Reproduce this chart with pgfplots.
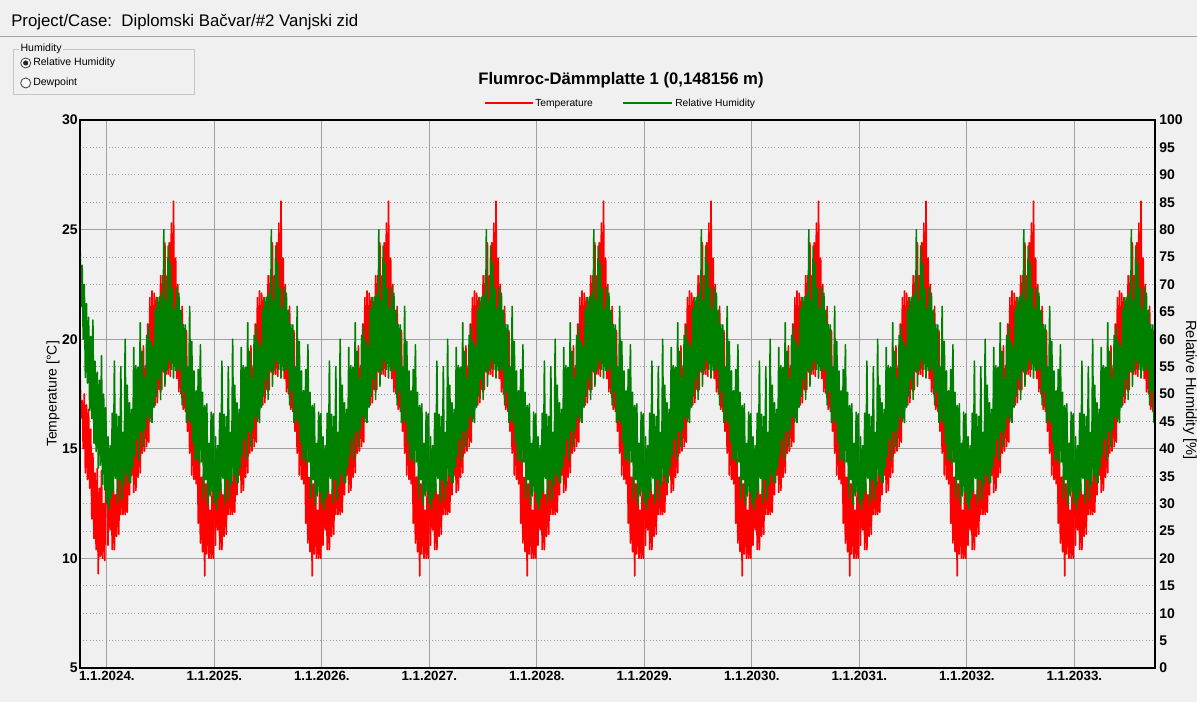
\documentclass[border=0pt]{standalone}
\usepackage{fontspec}
\setmainfont{Liberation Sans}
\usepackage{pgfplots}
\usepackage{pgfplotstable}
\pgfplotsset{compat=1.18}
\definecolor{bg}{HTML}{F0F0F0}
\definecolor{gridc}{HTML}{A0A0A0}
\definecolor{wgreen}{HTML}{008000}
\definecolor{wred}{HTML}{FF0000}

% one climate year (t = fraction of the year from 1 January), repeated every year
\pgfplotstableread{
t T RH
0.00 13.9 30.0
0.01 10.6 42.2
0.02 14.1 29.0
0.03 11.3 40.6
0.04 13.8 31.0
0.05 10.4 46.5
0.06 13.4 32.2
0.07 10.4 56.0
0.08 12.9 34.6
0.09 11.0 46.3
0.10 14.1 30.0
0.11 11.1 45.9
0.12 13.8 34.4
0.13 12.0 55.0
0.14 15.1 30.8
0.15 12.0 43.0
0.16 13.5 33.4
0.17 12.0 60.0
0.18 15.0 35.2
0.19 12.1 51.6
0.20 15.7 34.0
0.21 12.9 48.4
0.22 16.1 33.8
0.23 13.8 47.2
0.24 16.0 36.6
0.25 13.0 58.5
0.26 15.9 38.6
0.27 13.1 55.2
0.28 15.7 41.8
0.29 13.7 54.9
0.30 17.1 38.0
0.31 13.9 63.0
0.32 17.2 43.2
0.33 14.8 57.8
0.34 19.7 40.4
0.35 14.9 53.0
0.36 18.8 43.6
0.37 15.1 60.7
0.38 20.7 45.8
0.39 15.3 62.4
0.40 21.9 45.0
0.41 16.4 59.6
0.42 22.2 44.8
0.43 17.5 58.8
0.44 22.1 47.6
0.45 17.0 65.5
0.46 21.9 49.6
0.47 17.1 67.6
0.48 21.6 52.8
0.49 17.7 67.7
0.50 22.9 49.0
0.51 17.7 68.3
0.52 22.9 54.2
0.53 18.5 80.0
0.54 24.4 51.4
0.55 18.4 67.0
0.56 22.9 54.3
0.57 18.4 77.0
0.58 24.4 55.9
0.59 18.3 74.0
0.60 25.3 54.5
0.61 18.9 69.2
0.62 26.3 52.9
0.63 19.4 65.6
0.64 23.7 54.3
0.65 18.2 69.5
0.66 22.5 54.2
0.67 17.6 68.4
0.68 21.2 54.6
0.69 17.5 65.3
0.70 21.5 48.0
0.71 16.8 62.7
0.72 20.2 50.4
0.73 16.7 62.6
0.74 20.4 44.8
0.75 15.8 55.0
0.76 17.8 45.2
0.77 14.8 66.0
0.78 18.2 44.6
0.79 13.8 59.6
0.80 17.9 41.0
0.81 13.6 54.2
0.82 17.3 38.0
0.83 13.4 50.6
0.84 16.2 38.0
0.85 11.6 54.5
0.86 15.0 37.2
0.87 10.7 59.0
0.88 13.7 37.6
0.89 10.3 50.3
0.90 14.1 31.0
0.91 9.2 47.9
0.92 13.4 34.4
0.93 10.2 48.2
0.94 14.1 29.8
0.95 10.0 41.0
0.96 12.2 31.4
0.97 10.0 46.7
0.98 13.4 32.2
0.99 10.0 46.4
1.00 13.9 30.0
}\yeardata

% start of the calculation, 1.10.2023 - 1.1.2024
\pgfplotstableread{
t T RH
-0.25 18.6 78.0
-0.24 16.4 66.0
-0.23 17.2 73.5
-0.22 15.0 60.0
-0.21 17.5 70.0
-0.20 13.9 53.0
-0.19 17.0 66.5
-0.18 13.6 52.0
-0.17 16.8 64.0
-0.16 13.2 47.0
-0.15 15.9 60.5
-0.14 11.8 45.5
-0.13 14.8 63.5
-0.12 10.9 41.0
-0.11 13.9 56.0
-0.10 10.4 39.5
-0.09 14.1 54.0
-0.08 9.3 36.5
-0.07 13.2 52.5
-0.06 10.1 37.0
-0.05 14.0 57.0
-0.04 10.0 33.5
-0.03 12.5 50.0
-0.02 9.9 32.5
-0.01 13.4 47.5
0.00 13.9 30.0
}\startdata

\begin{document}
\begin{tikzpicture}
\fill[bg] (0,0) rectangle (897.75pt,526.5pt);
\useasboundingbox (0,0) rectangle (897.75pt,526.5pt);

% left axis: temperature
\begin{axis}[
  at={(60pt,25.5pt)}, anchor=south west,
  scale only axis, width=806.25pt, height=411pt,
  xmin=-0.25, xmax=9.75, ymin=5, ymax=30,
  xtick={0,...,9},
  xticklabels={1.1.2024.,1.1.2025.,1.1.2026.,1.1.2027.,1.1.2028.,1.1.2029.,1.1.2030.,1.1.2031.,1.1.2032.,1.1.2033.},
  ytick={5,10,...,30}, minor y tick num=3,
  ymajorgrids, yminorgrids, xmajorgrids,
  major grid style={gridc, line width=0.6pt},
  minor grid style={gridc, dotted, line width=0.6pt},
  major tick length=0pt, minor tick length=0pt,
  axis line style={black, line width=1.4pt},
  /pgf/number format/assume math mode=true,
  yticklabel style={font=\fontsize{10.5}{12}\selectfont\bfseries, inner sep=1.5pt},
  xticklabel style={font=\fontsize{10}{12}\selectfont\bfseries, inner sep=2pt},
]
\addplot[wred, line width=1.2pt, line join=round] table[x=t, y=T] {\startdata};
\pgfplotsinvokeforeach{0,...,9}{
  \addplot[wred, line width=1.2pt, line join=round] table[x expr=\thisrow{t}+#1, y=T] {\yeardata};
}
\end{axis}

% right axis: relative humidity
\begin{axis}[
  at={(60pt,25.5pt)}, anchor=south west,
  scale only axis, width=806.25pt, height=411pt,
  xmin=-0.25, xmax=9.75, ymin=0, ymax=100,
  xtick=\empty,
  ytick={0,5,...,100}, yticklabel pos=right,
  major tick length=0pt,
  axis on top,
  axis line style={black, line width=1.4pt},
  /pgf/number format/assume math mode=true,
  yticklabel style={font=\fontsize{10.5}{12}\selectfont\bfseries, inner sep=3pt},
]
\addplot[wgreen, line width=1.2pt, line join=round] table[x=t, y=RH] {\startdata};
\pgfplotsinvokeforeach{0,...,9}{
  \addplot[wgreen, line width=1.2pt, line join=round] table[x expr=\thisrow{t}+#1, y=RH] {\yeardata};
}
\end{axis}

\begin{scope}[x=0.75pt, y=-0.75pt, shift={(0pt,526.5pt)}]
  % header
  \node[anchor=west, inner sep=0pt, font=\fontsize{12.6}{14}\selectfont] at (11,22.5)
    {Project/Case:\ \ Diplomski Bačvar/\#2 Vanjski zid};
  \draw[gray!70, line width=0.75pt] (0,37) -- (1197,37);
  % group box
  \draw[gray!45, line width=0.75pt] (13,50) rectangle (194,95);
  \node[anchor=west, fill=bg, inner sep=1pt, font=\fontsize{7.9}{9}\selectfont] at (19,49) {Humidity};
  \draw[black!75, fill=white, line width=0.6pt] (25.7,63) circle (5);
  \fill[black!85] (25.7,63) circle (2.6);
  \node[anchor=west, inner sep=0pt, font=\fontsize{7.9}{9}\selectfont] at (33,63) {Relative Humidity};
  \draw[black!75, fill=white, line width=0.6pt] (25.7,83) circle (5);
  \node[anchor=west, inner sep=0pt, font=\fontsize{7.9}{9}\selectfont] at (33,83) {Dewpoint};
  % title
  \node[font=\fontsize{12.5}{14}\selectfont\bfseries] at (621,80) {Flumroc-Dämmplatte 1 (0,148156 m)};
  % legend
  \draw[wred, line width=1.5pt] (485,103.5) -- (533,103.5);
  \node[anchor=west, inner sep=0pt, font=\fontsize{7.7}{9}\selectfont] at (535,104) {Temperature};
  \draw[wgreen, line width=1.5pt] (623,103.5) -- (672,103.5);
  \node[anchor=west, inner sep=0pt, font=\fontsize{7.7}{9}\selectfont] at (675,104) {Relative Humidity};
  % axis titles
  \node[rotate=90, font=\fontsize{10.5}{12}\selectfont] at (53,394) {Temperature [°C]};
  \node[rotate=-90, font=\fontsize{11}{13}\selectfont] at (1190,390) {Relative Humidity [\%]};
\end{scope}
\end{tikzpicture}
\end{document}
